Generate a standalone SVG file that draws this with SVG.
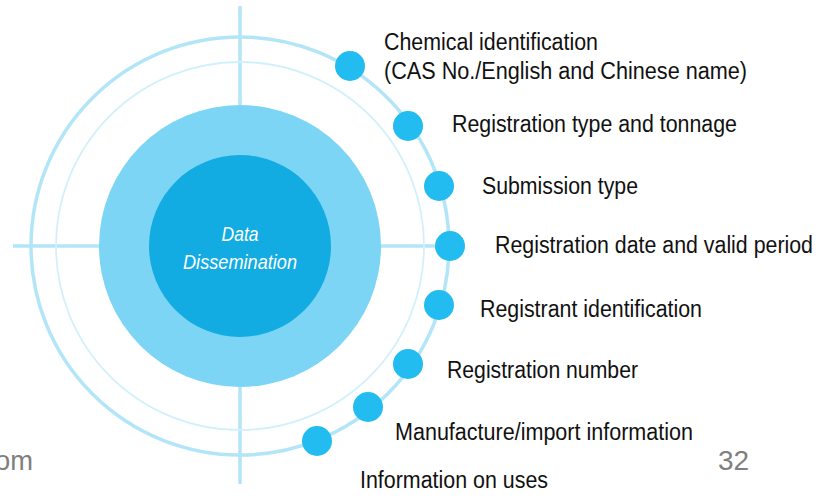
<svg xmlns="http://www.w3.org/2000/svg" width="827" height="498" viewBox="0 0 827 498">
<style>
.ax{stroke:#b3e5f8;stroke-width:3.5;fill:none}
.outer{stroke:#b3e5f8;stroke-width:3.5;fill:none}
.thin{stroke:#d2f0fb;stroke-width:1.8;fill:none}
.dot{fill:#22bcf0}
.lbl{font-family:"Liberation Sans",Arial,sans-serif;font-size:23px;fill:#111}
.ctr{font-family:"Liberation Sans",Arial,sans-serif;font-size:21px;font-style:italic;fill:#fff;text-anchor:middle}
.gray{font-family:"Liberation Sans",Arial,sans-serif;font-size:28px;fill:#7f7f7f}
</style>
<rect width="827" height="498" fill="#fff"/>
<g id="axes">
<line class="ax" x1="240" y1="6" x2="240" y2="484"/>
<line class="ax" x1="13" y1="246" x2="440" y2="246"/>
</g>
<g id="rings">
<circle class="outer" cx="240" cy="246" r="209"/>
<circle class="thin" cx="240" cy="246" r="184"/>
</g>
<g id="center">
<circle cx="240" cy="246" r="141" fill="#7dd5f5"/>
<circle cx="240" cy="246" r="91" fill="#12ace2"/>
<text class="ctr" x="240" y="241" textLength="37" lengthAdjust="spacingAndGlyphs">Data</text>
<text class="ctr" x="240" y="269" textLength="114" lengthAdjust="spacingAndGlyphs">Dissemination</text>
</g>
<g id="n1"><circle class="dot" cx="350" cy="66" r="15"/>
<text class="lbl" x="384" y="50" textLength="214" lengthAdjust="spacingAndGlyphs">Chemical identification</text>
<text class="lbl" x="384" y="79" textLength="363" lengthAdjust="spacingAndGlyphs">(CAS No./English and Chinese name)</text></g>
<g id="n2"><circle class="dot" cx="408" cy="126" r="15"/>
<text class="lbl" x="452" y="132" textLength="285" lengthAdjust="spacingAndGlyphs">Registration type and tonnage</text></g>
<g id="n3"><circle class="dot" cx="439" cy="186" r="15"/>
<text class="lbl" x="482" y="194" textLength="156" lengthAdjust="spacingAndGlyphs">Submission type</text></g>
<g id="n4"><circle class="dot" cx="450" cy="246" r="15"/>
<text class="lbl" x="495" y="253" textLength="318" lengthAdjust="spacingAndGlyphs">Registration date and valid period</text></g>
<g id="n5"><circle class="dot" cx="439" cy="305" r="15"/>
<text class="lbl" x="480" y="317" textLength="222" lengthAdjust="spacingAndGlyphs">Registrant identification</text></g>
<g id="n6"><circle class="dot" cx="408" cy="364" r="15"/>
<text class="lbl" x="447" y="378" textLength="191" lengthAdjust="spacingAndGlyphs">Registration number</text></g>
<g id="n7"><circle class="dot" cx="368" cy="407" r="15"/>
<text class="lbl" x="395" y="440" textLength="298" lengthAdjust="spacingAndGlyphs">Manufacture/import information</text></g>
<g id="n8"><circle class="dot" cx="317" cy="441" r="15"/>
<text class="lbl" x="360" y="488" textLength="188" lengthAdjust="spacingAndGlyphs">Information on uses</text></g>
<g id="footer">
<text class="gray" x="-5" y="470" textLength="38" lengthAdjust="spacingAndGlyphs">om</text>
<text class="gray" x="718" y="470">32</text>
</g>
</svg>
